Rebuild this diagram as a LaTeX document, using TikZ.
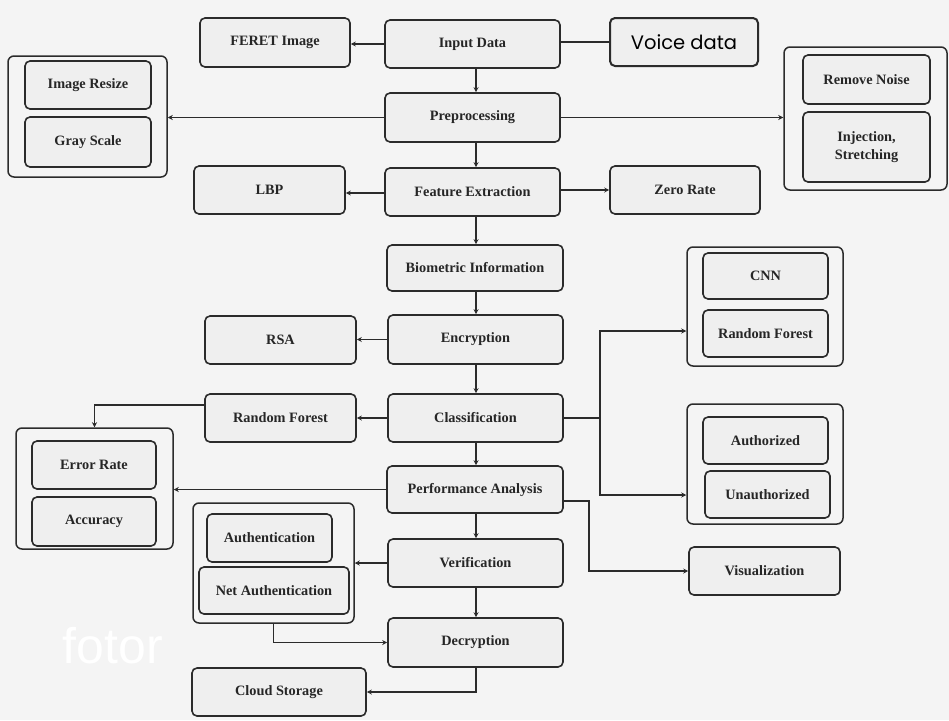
\documentclass[tikz,border=0pt]{standalone}
\usepackage{fontspec}
\setmainfont{Liberation Serif}
\newfontfamily\voicefont{Poppins}
\newfontfamily\wmfont{Liberation Sans}
\usetikzlibrary{arrows.meta,calc}
\definecolor{bgc}{HTML}{F4F4F4}
\definecolor{boxfill}{HTML}{EFEFEF}
\definecolor{linec}{HTML}{2B2B2B}
\tikzset{
  box/.style={draw=linec, line width=1.6pt, rounded corners=5pt, fill=boxfill,
    inner sep=2pt, align=center, font=\fontsize{14.3}{15.5}\selectfont\bfseries, text=black!85},
  grp/.style={draw=linec, line width=1.5pt, rounded corners=6pt, fill=bgc},
  conn/.style={draw=linec, line width=1.5pt},
  arr/.style={conn, -{Stealth[length=5pt,width=5pt]}}
}
\newcommand{\bx}[7]{\node[#1, minimum width=#4pt, minimum height=#5pt] (#2) at (#3) {#7};}
\begin{document}
\begin{tikzpicture}[x=1pt,y=-1pt]
\fill[bgc] (0,0) rectangle (949,720);
\useasboundingbox (0,0) rectangle (949,720);
% watermark
\node[text=white, font=\wmfont\fontsize{50}{50}\selectfont] (wm) at (113,646) {fotor};
% groups
\bx{grp}{lgrp}{87.5,116.5}{159}{121}{}{}
\bx{grp}{rgrp}{865.5,118.5}{163}{143}{}{}
\bx{grp}{egrp}{94.5,488.5}{157}{121}{}{}
\bx{grp}{agrp}{273.5,563}{161}{120}{}{}
\bx{grp}{cgrp}{765,306.5}{156}{119}{}{}
\bx{grp}{augrp}{765,464}{156}{120}{}{}
% main column
\bx{box}{input}{472.5,44}{175}{48}{}{Input Data}
\bx{box}{feret}{275,42.5}{150}{49}{}{FERET Image}
\node[box, line width=2pt, minimum width=148pt, minimum height=48pt, font=\voicefont\fontsize{19.5}{20}\selectfont, text=black] (voice) at (684,42) {Voice data};
\bx{box}{prep}{472.5,117.5}{175}{49}{}{Preprocessing}
\bx{box}{resize}{88,85}{126}{48}{}{Image Resize}
\bx{box}{gray}{88,142}{126}{50}{}{Gray Scale}
\bx{box}{noise}{866.5,79.5}{127}{49}{}{Remove Noise}
\bx{box}{inj}{866.5,147}{127}{70}{}{Injection,\\[2pt]Stretching}
\bx{box}{feat}{472.5,192}{175}{48}{}{Feature Extraction}
\bx{box}{lbp}{269.5,190}{151}{48}{}{LBP}
\bx{box}{zero}{685,190}{150}{48}{}{Zero Rate}
\bx{box}{bio}{475,268}{176}{46}{}{Biometric Information}
\bx{box}{enc}{475.5,339.5}{175}{49}{}{Encryption}
\bx{box}{rsa}{280.5,340}{151}{48}{}{RSA}
\bx{box}{cls}{475.5,418}{175}{48}{}{Classification}
\bx{box}{rf}{280.5,418}{151}{48}{}{Random Forest}
\bx{box}{err}{94,465}{124}{48}{}{Error Rate}
\bx{box}{acc}{94,521.5}{124}{49}{}{Accuracy}
\bx{box}{perf}{475,489.5}{176}{47}{}{Performance Analysis}
\bx{box}{ver}{475.5,563}{175}{48}{}{Verification}
\bx{box}{dec}{475.5,642.5}{175}{49}{}{Decryption}
\bx{box}{authn}{269.5,538}{125}{48}{}{Authentication}
\bx{box}{nauth}{274,590.5}{150}{47}{}{Net Authentication}
\bx{box}{cloud}{279,692}{174}{48}{}{Cloud Storage}
\bx{box}{cnn}{765.5,276}{125}{46}{}{CNN}
\bx{box}{rf2}{765.5,333.5}{125}{47}{}{Random Forest}
\bx{box}{authz}{765.5,440.5}{125}{47}{}{Authorized}
\bx{box}{unauth}{767.5,494.5}{125}{47}{}{Unauthorized}
\bx{box}{vis}{764.5,571}{151}{48}{}{Visualization}
% main vertical axis
\coordinate (mx) at (476,0);
% connectors
\draw[arr] (input.west) -- (input.west -| feret.east);
\draw[conn] (voice.west) -- (voice.west -| input.east);
\draw[arr] (input.south -| mx) -- (prep.north -| mx);
\draw[arr] (prep.west) -- (prep.west -| lgrp.east);
\draw[arr] (prep.east) -- (prep.east -| rgrp.west);
\draw[arr] (prep.south -| mx) -- (feat.north -| mx);
\draw[arr] ([yshift=-1pt]feat.west) -- ([yshift=-1pt]feat.west -| lbp.east);
\draw[arr] ([yshift=2pt]feat.east) -- ([yshift=2pt]feat.east -| zero.west);
\draw[arr] (feat.south -| mx) -- (bio.north -| mx);
\draw[arr] (bio.south -| mx) -- (enc.north -| mx);
\draw[arr] (enc.west) -- (enc.west -| rsa.east);
\draw[arr] (enc.south -| mx) -- (cls.north -| mx);
\draw[arr] (cls.west) -- (cls.west -| rf.east);
\draw[arr] ([yshift=13pt]rf.west) -| (egrp.north);
\coordinate (br) at (600,418);
\draw[conn] (cls.east) -- (br);
\draw[arr] (br) |- ([yshift=-24.5pt]cgrp.west);
\draw[arr] (br) |- ([yshift=-31pt]augrp.west);
\draw[arr] (cls.south -| mx) -- (perf.north -| mx);
\draw[arr] (perf.west) -- (perf.west -| egrp.east);
\draw[arr] (perf.south -| mx) -- (ver.north -| mx);
\draw[arr] ([yshift=-11.5pt]perf.east) -- ++(25,0) |- (vis.west);
\draw[arr] (ver.west) -- (ver.west -| agrp.east);
\draw[arr] (ver.south -| mx) -- (dec.north -| mx);
\draw[arr] (agrp.south) |- (dec.west);
\draw[arr] (dec.south -| mx) |- (cloud.east);
\end{tikzpicture}
\end{document}
